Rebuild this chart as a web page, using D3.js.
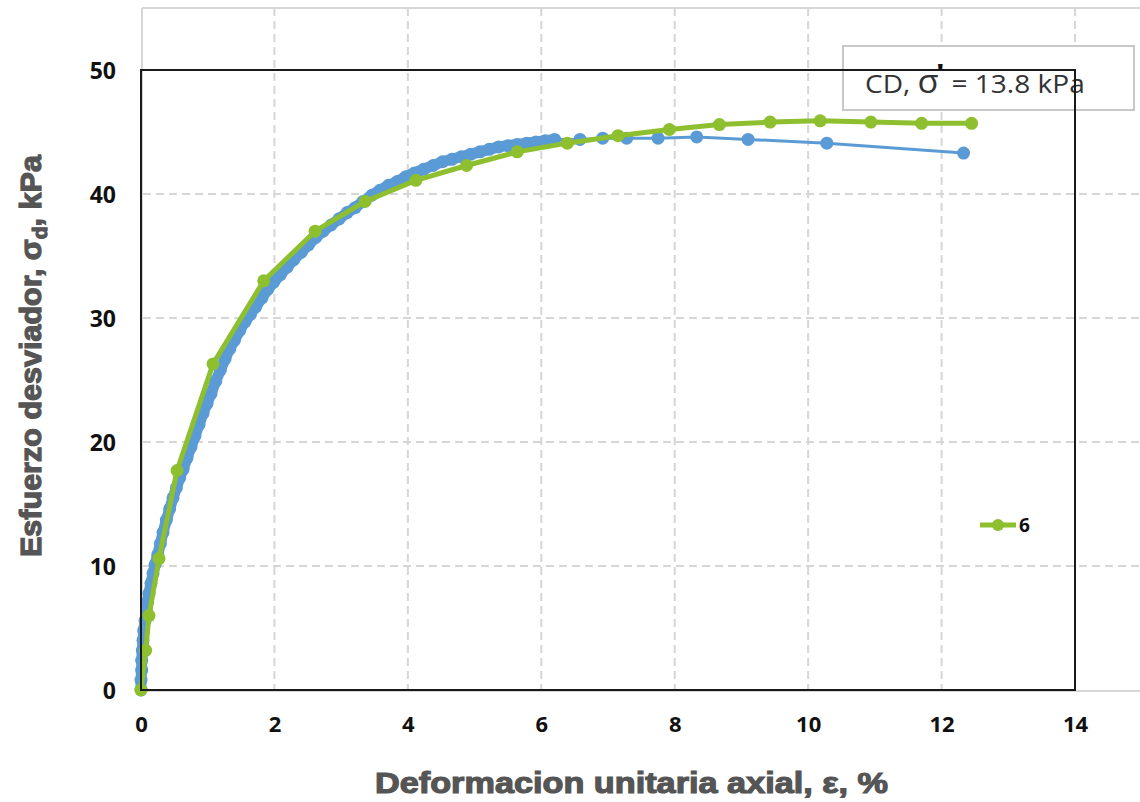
<!DOCTYPE html>
<html>
<head>
<meta charset="utf-8">
<script src="https://cdn.jsdelivr.net/npm/d3@7/dist/d3.min.js"></script>
<style>
  html, body { margin: 0; padding: 0; background: #ffffff; }
  svg { display: block; }
</style>
</head>
<body>
<svg id="chart" width="1140" height="802"></svg>
<script>
// ---------- DATA ----------
const xTickValues = [0, 2, 4, 6, 8, 10, 12, 14];
const yTickValues = [0, 10, 20, 30, 40, 50];

// Green series "6" (strain %, deviator stress kPa)
const greenStrain = [0, 0.07, 0.12, 0.27, 0.54, 1.08, 1.84, 2.61, 3.36, 4.12, 4.88, 5.64, 6.39, 7.15, 7.92, 8.67, 9.43, 10.18, 10.94, 11.70, 12.45];
const greenStress = [0, 3.2, 6.0, 10.6, 17.7, 26.3, 33.0, 37.0, 39.4, 41.1, 42.3, 43.4, 44.1, 44.7, 45.2, 45.6, 45.8, 45.9, 45.8, 45.7, 45.7];

// Blue series (dense readings, then sparse readings)
const blueStrain = [0.00, 0.00, 0.01, 0.01, 0.02, 0.03, 0.04, 0.06, 0.08, 0.10, 0.12, 0.15, 0.18, 0.21, 0.25, 0.29, 0.33, 0.38, 0.43, 0.48,
  0.53, 0.58, 0.63, 0.69, 0.75, 0.81, 0.87, 0.93, 0.99, 1.05, 1.12, 1.19, 1.26, 1.33, 1.40, 1.48, 1.56, 1.64, 1.72, 1.81,
  1.90, 1.99, 2.09, 2.19, 2.29, 2.40, 2.51, 2.62, 2.73, 2.85, 2.97, 3.09, 3.21, 3.33, 3.46, 3.58, 3.71, 3.84, 3.97, 4.10,
  4.24, 4.38, 4.52, 4.66, 4.80, 4.94, 5.08, 5.22, 5.36, 5.50, 5.64, 5.78, 5.92, 6.06, 6.20,
  6.58, 6.92, 7.28, 7.75, 8.33, 9.10, 10.28, 12.33];
const blueStress = [0.0, 0.8, 1.6, 2.4, 3.2, 4.0, 4.8, 5.6, 6.4, 7.1, 7.8, 8.6, 9.4, 10.1, 10.9, 11.8, 12.7, 13.7, 14.6, 15.5,
  16.3, 17.1, 17.8, 18.7, 19.6, 20.5, 21.4, 22.3, 23.1, 23.9, 24.9, 25.8, 26.7, 27.5, 28.2, 29.0, 29.7, 30.3, 30.9, 31.6,
  32.3, 32.9, 33.5, 34.1, 34.7, 35.3, 35.9, 36.5, 37.0, 37.5, 38.0, 38.5, 38.9, 39.4, 39.9, 40.3, 40.7, 41.0, 41.4, 41.7,
  42.0, 42.3, 42.6, 42.8, 43.0, 43.2, 43.4, 43.6, 43.8, 43.9, 44.0, 44.1, 44.2, 44.3, 44.4,
  44.4, 44.5, 44.5, 44.5, 44.6, 44.4, 44.1, 43.3];
const blueDenseCount = 75; // readings taken densely (overlapping markers)

const legendLabel = "6";
const annotationText = ["CD, ", "σ", "'", " = 13.8 kPa"];
const xTitle = "Deformacion unitaria axial, ε, %";
const yTitleParts = ["Esfuerzo desviador, σ", "d", ", kPa"];

// ---------- DRAW ----------
const svg = d3.select("#chart");
const x = d3.scaleLinear().domain([0, 14]).range([141, 1075]);
const y = d3.scaleLinear().domain([0, 50]).range([690, 70]);

const greenColor = "#8dbf2e";
const blueColor = "#5b9bd5";
const gridColor = "#d6d6d6";

// Background (underlying) chart frame and grid
const bg = svg.append("g");
bg.append("line").attr("x1", 142).attr("x2", 142).attr("y1", 8).attr("y2", 691)
  .attr("stroke", gridColor).attr("stroke-width", 2);
bg.append("line").attr("x1", 142).attr("x2", 1140).attr("y1", 8).attr("y2", 8)
  .attr("stroke", gridColor).attr("stroke-width", 2);
bg.append("line").attr("x1", 142).attr("x2", 1140).attr("y1", 691).attr("y2", 691)
  .attr("stroke", gridColor).attr("stroke-width", 2);
bg.selectAll("line.vgrid").data(xTickValues.filter(d => d > 0)).join("line")
  .attr("class", "vgrid")
  .attr("x1", d => x(d)).attr("x2", d => x(d)).attr("y1", 8).attr("y2", 691)
  .attr("stroke", gridColor).attr("stroke-width", 2).attr("stroke-dasharray", "8,5");
bg.selectAll("line.hgrid").data(yTickValues.filter(d => d > 0 && d < 50)).join("line")
  .attr("class", "hgrid")
  .attr("x1", 143).attr("x2", 1140).attr("y1", d => y(d)).attr("y2", d => y(d))
  .attr("stroke", gridColor).attr("stroke-width", 2).attr("stroke-dasharray", "8,5");

// Annotation box
svg.append("rect").attr("x", 843).attr("y", 46).attr("width", 291).attr("height", 64)
  .attr("fill", "#ffffff").attr("stroke", "#c8c8c8").attr("stroke-width", 2);
const ann = svg.append("text").attr("x", 865).attr("y", 93)
  .attr("font-family", "'Open Sans', 'Liberation Sans', sans-serif")
  .attr("font-size", 26).attr("fill", "#333333");
ann.append("tspan").text(annotationText[0]);
ann.append("tspan").attr("font-size", 32).text(annotationText[1]);
ann.append("tspan").attr("dy", -11).attr("dx", -2).attr("font-weight", 900).attr("font-size", 24).attr("fill", "#111").text(annotationText[2]);
ann.append("tspan").attr("dy", 11).text(annotationText[3]);
const annLen = ann.node().getComputedTextLength();
ann.attr("transform", `translate(865,0) scale(${222 / annLen},1) translate(-865,0)`);

// Blue series
const blueData = blueStrain.map((d, i) => [d, blueStress[i]]);
const greenData = greenStrain.map((d, i) => [d, greenStress[i]]);
const line = d3.line().x(d => x(d[0])).y(d => y(d[1]));

// dense readings form a thick band of overlapping markers
svg.append("path").datum(blueData.slice(0, blueDenseCount)).attr("d", line)
  .attr("fill", "none").attr("stroke", blueColor).attr("stroke-width", 11)
  .attr("stroke-linejoin", "round").attr("stroke-linecap", "round");
svg.append("path").datum(blueData).attr("d", line)
  .attr("fill", "none").attr("stroke", blueColor).attr("stroke-width", 3);
svg.append("g").selectAll("circle").data(blueData).join("circle")
  .attr("cx", d => x(d[0])).attr("cy", d => y(d[1])).attr("r", 6.5).attr("fill", blueColor);

// Green series
svg.append("path").datum(greenData).attr("d", line)
  .attr("fill", "none").attr("stroke", greenColor).attr("stroke-width", 5).attr("stroke-linejoin", "round");
svg.append("g").selectAll("circle").data(greenData).join("circle")
  .attr("cx", d => x(d[0])).attr("cy", d => y(d[1])).attr("r", 6.5).attr("fill", greenColor);

// Foreground black frame
svg.append("rect").attr("x", x(0)).attr("y", y(50)).attr("width", x(14) - x(0)).attr("height", y(0) - y(50))
  .attr("fill", "none").attr("stroke", "#1a1a1a").attr("stroke-width", 2);

// Axes (labels only)
const xAxis = d3.axisBottom(x).tickValues(xTickValues).tickSize(0).tickPadding(0);
const gx = svg.append("g").attr("transform", `translate(0, 719)`).call(xAxis);
gx.select(".domain").remove();
gx.selectAll("text").attr("font-family", "'Open Sans', 'Liberation Sans', sans-serif")
  .attr("font-weight", 700).attr("font-size", 22).attr("fill", "#111").attr("dy", "0.6em");

const yAxis = d3.axisLeft(y).tickValues(yTickValues).tickSize(0).tickPadding(0);
const gy = svg.append("g").attr("transform", `translate(116, 0)`).call(yAxis);
gy.select(".domain").remove();
gy.selectAll("text").attr("font-family", "'Open Sans', 'Liberation Sans', sans-serif")
  .attr("font-weight", 700).attr("font-size", 23).attr("fill", "#111").attr("dy", "0.35em");

// Axis titles
svg.append("text").attr("x", 375).attr("y", 793)
  .attr("font-family", "'Liberation Sans', Arial, sans-serif").attr("font-weight", 700)
  .attr("font-size", 30).attr("fill", "#555555").attr("stroke", "#555555").attr("stroke-width", 1.2)
  .attr("textLength", 513).attr("lengthAdjust", "spacingAndGlyphs")
  .text(xTitle);

const yt = svg.append("text").attr("transform", "translate(41, 557) rotate(-90)")
  .attr("font-family", "'Liberation Sans', Arial, sans-serif").attr("font-weight", 700)
  .attr("font-size", 29).attr("fill", "#555555").attr("stroke", "#555555").attr("stroke-width", 1.2);
yt.append("tspan").text(yTitleParts[0]);
yt.append("tspan").attr("font-size", 20).attr("dy", 6).text(yTitleParts[1]);
yt.append("tspan").attr("dy", -6).text(yTitleParts[2]);
const ytLen = yt.node().getComputedTextLength();
yt.attr("transform", `translate(41, 557) rotate(-90) scale(${402 / ytLen}, 1)`);

// Legend
const lg = svg.append("g");
lg.append("line").attr("x1", 980).attr("x2", 1016).attr("y1", 525).attr("y2", 525)
  .attr("stroke", greenColor).attr("stroke-width", 5);
lg.append("circle").attr("cx", 998).attr("cy", 525).attr("r", 6).attr("fill", greenColor);
lg.append("text").attr("x", 1019).attr("y", 532)
  .attr("font-family", "'Open Sans', 'Liberation Sans', sans-serif").attr("font-weight", 700)
  .attr("font-size", 19).attr("fill", "#111").text(legendLabel);
</script>
</body>
</html>
